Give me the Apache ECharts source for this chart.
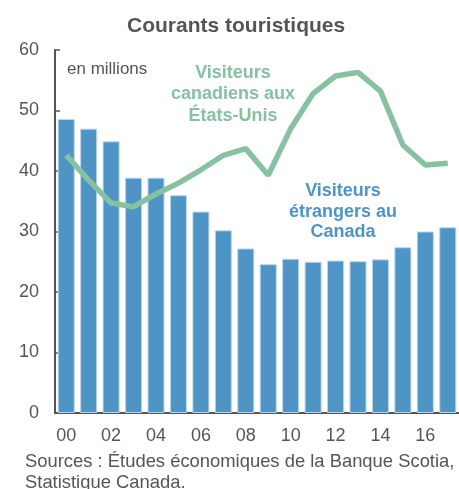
<!DOCTYPE html>
<html>
<head>
<meta charset="utf-8">
<script src="https://cdn.jsdelivr.net/npm/echarts@6/dist/echarts.min.js"></script>
<style>
  html, body { margin: 0; padding: 0; background: #fff; }
  #chart-container { width: 459px; height: 489px; }
</style>
</head>
<body>
<div id="chart-container"></div>
<script>
var years = ['00', '01', '02', '03', '04', '05', '06', '07', '08',
  '09', '10', '11', '12', '13', '14', '15', '16', '17'];
var etrangers = [48.6, 47.0, 44.9, 38.9, 38.9, 36.0, 33.3, 30.2, 27.2,
  24.6, 25.5, 25.0, 25.2, 25.1, 25.4, 27.4, 30.0, 30.7];
var canadiens = [42.6, 38.5, 34.7, 34.1, 36.2, 38.0, 40.2, 42.6, 43.7,
  39.3, 47.0, 52.8, 55.7, 56.3, 53.2, 44.3, 41.0, 41.3];

var dom = document.getElementById('chart-container');
var myChart = echarts.init(dom, null, { renderer: 'canvas' });
var font = 'Liberation Sans, Arial, sans-serif';
var grey = '#555555';
var green = '#86c1a1';
var blue = '#4e95c5';

var option = {
  animation: false,
  title: {
    text: 'Courants touristiques',
    left: 122,
    top: 11,
    textStyle: { fontFamily: font, fontSize: 21, fontWeight: 'bold', color: grey }
  },
  grid: { left: 55, right: 0, top: 50, bottom: 76, containLabel: false },
  xAxis: {
    type: 'category',
    data: years,
    boundaryGap: true,
    axisLine: { lineStyle: { color: grey, width: 2 } },
    axisTick: { inside: true, length: 4, interval: 0, lineStyle: { color: grey, width: 1.5 } },
    axisLabel: {
      interval: 1,
      margin: 14,
      fontFamily: font, fontSize: 18, color: grey
    }
  },
  yAxis: {
    type: 'value',
    min: 0, max: 60, interval: 10,
    splitLine: { show: false },
    axisLine: { show: true, lineStyle: { color: grey, width: 2 } },
    axisTick: { show: true, inside: true, length: 5, lineStyle: { color: grey, width: 1.5 } },
    axisLabel: { margin: 16, fontFamily: font, fontSize: 18, color: grey }
  },
  series: [
    {
      type: 'bar',
      data: etrangers,
      barCategoryGap: '24%',
      itemStyle: { color: blue, borderColor: '#bcd7ec', borderWidth: 1 }
    },
    {
      type: 'line',
      data: canadiens,
      symbol: 'none',
      lineStyle: { color: green, width: 5.5 },
      z: 3
    }
  ],
  graphic: [
    {
      type: 'text', left: 67, top: 61,
      style: { text: 'en millions', font: '17px ' + font, fill: grey }
    },
    {
      type: 'text', x: 233, y: 62,
      style: {
        text: 'Visiteurs\ncanadiens aux\nÉtats-Unis',
        font: 'bold 18px ' + font, fill: green,
        align: 'center', lineHeight: 21.5
      }
    },
    {
      type: 'text', x: 343, y: 181,
      style: {
        text: 'Visiteurs\nétrangers au\nCanada',
        font: 'bold 18px ' + font, fill: blue,
        align: 'center', lineHeight: 20.5
      }
    },
    {
      type: 'text', left: 25, top: 451,
      style: {
        text: 'Sources : Études économiques de la Banque Scotia,\nStatistique Canada.',
        font: '18.4px ' + font, fill: grey, lineHeight: 21
      }
    }
  ]
};

myChart.setOption(option);
window.addEventListener('resize', myChart.resize);
</script>
</body>
</html>
